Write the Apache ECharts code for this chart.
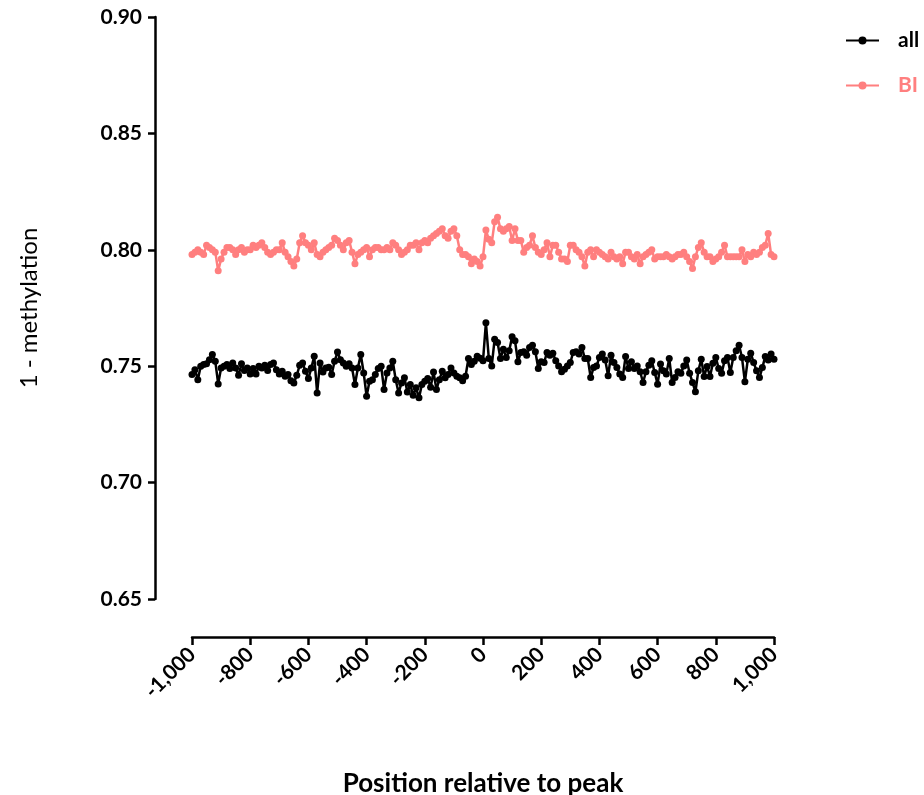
<!DOCTYPE HTML>
<html>
<head>
    <meta charset="utf-8">
    <title>1 - methylation</title>
    <script type="text/javascript" src="https://cdn.jsdelivr.net/npm/echarts@6/dist/echarts.min.js"></script>
    <style>
        html, body { margin: 0; padding: 0; background: #fff; }
        #main { width: 924px; height: 795px; }
    </style>
</head>
<body>
<div id="main"></div>
<script>
    // x positions: -1000 .. 1000, every 10 bp
    var positions = [];
    for (var p = -1000; p <= 1000; p += 10) {
        positions.push(p);
    }

    var xTicks = [-1000, -800, -600, -400, -200, 0, 200, 400, 600, 800, 1000];
    var yTicks = [0.65, 0.70, 0.75, 0.80, 0.85, 0.90];

    // series "all"
    var allValues = [
        0.7464, 0.7485, 0.7442, 0.7500, 0.7507, 0.7511, 0.7528, 0.7550, 0.7521, 0.7424,
        0.7492, 0.7500, 0.7507, 0.7490, 0.7514, 0.7492, 0.7461, 0.7510, 0.7481, 0.7492,
        0.7467, 0.7490, 0.7467, 0.7500, 0.7492, 0.7504, 0.7481, 0.7507, 0.7514, 0.7485,
        0.7467, 0.7478, 0.7457, 0.7464, 0.7438, 0.7428, 0.7461, 0.7504, 0.7514, 0.7478,
        0.7447, 0.7492, 0.7543, 0.7385, 0.7514, 0.7475, 0.7492, 0.7495, 0.7464, 0.7521,
        0.7561, 0.7528, 0.7514, 0.7500, 0.7510, 0.7492, 0.7421, 0.7492, 0.7550, 0.7471,
        0.7371, 0.7435, 0.7442, 0.7464, 0.7490, 0.7500, 0.7400, 0.7471, 0.7492, 0.7521,
        0.7442, 0.7385, 0.7428, 0.7450, 0.7389, 0.7421, 0.7375, 0.7407, 0.7364, 0.7421,
        0.7435, 0.7447, 0.7410, 0.7475, 0.7400, 0.7442, 0.7478, 0.7450, 0.7464, 0.7492,
        0.7471, 0.7457, 0.7450, 0.7438, 0.7457, 0.7533, 0.7507, 0.7521, 0.7543, 0.7534,
        0.7523, 0.7687, 0.7533, 0.7501, 0.7616, 0.7602, 0.7533, 0.7573, 0.7537, 0.7566,
        0.7627, 0.7609, 0.7519, 0.7559, 0.7562, 0.7547, 0.7580, 0.7590, 0.7562, 0.7490,
        0.7519, 0.7516, 0.7559, 0.7547, 0.7556, 0.7523, 0.7501, 0.7476, 0.7487, 0.7501,
        0.7516, 0.7559, 0.7562, 0.7552, 0.7580, 0.7533, 0.7533, 0.7451, 0.7494, 0.7501,
        0.7537, 0.7552, 0.7527, 0.7459, 0.7547, 0.7516, 0.7494, 0.7466, 0.7451, 0.7542,
        0.7490, 0.7519, 0.7490, 0.7501, 0.7476, 0.7430, 0.7476, 0.7504, 0.7523, 0.7473,
        0.7423, 0.7509, 0.7480, 0.7466, 0.7533, 0.7430, 0.7451, 0.7476, 0.7470, 0.7501,
        0.7527, 0.7470, 0.7430, 0.7390, 0.7480, 0.7530, 0.7456, 0.7499, 0.7456, 0.7513,
        0.7537, 0.7490, 0.7470, 0.7523, 0.7537, 0.7473, 0.7537, 0.7566, 0.7590, 0.7537,
        0.7433, 0.7530, 0.7556, 0.7516, 0.7480, 0.7451, 0.7494, 0.7542, 0.7527, 0.7552,
        0.7530
    ];

    // series "BI"
    var biValues = [
        0.798, 0.799, 0.800, 0.799, 0.798, 0.802, 0.801, 0.800, 0.799, 0.791,
        0.796, 0.799, 0.801, 0.801, 0.800, 0.798, 0.800, 0.801, 0.799, 0.800,
        0.800, 0.802, 0.801, 0.802, 0.803, 0.801, 0.799, 0.798, 0.799, 0.800,
        0.800, 0.803, 0.799, 0.797, 0.795, 0.793, 0.796, 0.803, 0.806, 0.803,
        0.802, 0.800, 0.803, 0.798, 0.797, 0.799, 0.800, 0.801, 0.802, 0.805,
        0.804, 0.802, 0.800, 0.803, 0.804, 0.799, 0.794, 0.798, 0.799, 0.800,
        0.801, 0.797, 0.800, 0.801, 0.801, 0.800, 0.800, 0.801, 0.800, 0.803,
        0.802, 0.800, 0.798, 0.799, 0.800, 0.802, 0.802, 0.803, 0.800, 0.803,
        0.804, 0.803, 0.805, 0.806, 0.807, 0.808, 0.809, 0.806, 0.805, 0.808,
        0.809, 0.806, 0.800, 0.798, 0.798, 0.797, 0.794, 0.796, 0.795, 0.793,
        0.797, 0.8085, 0.8045, 0.803, 0.812, 0.814, 0.809, 0.808, 0.809, 0.810,
        0.804, 0.809, 0.804, 0.804, 0.799, 0.801, 0.802, 0.806, 0.801, 0.799,
        0.798, 0.800, 0.803, 0.797, 0.802, 0.802, 0.799, 0.796, 0.796, 0.795,
        0.802, 0.802, 0.800, 0.799, 0.797, 0.793, 0.799, 0.800, 0.797, 0.800,
        0.799, 0.798, 0.797, 0.796, 0.799, 0.797, 0.796, 0.797, 0.794, 0.799,
        0.799, 0.797, 0.796, 0.798, 0.794, 0.797, 0.798, 0.799, 0.800, 0.796,
        0.797, 0.797, 0.797, 0.798, 0.797, 0.796, 0.797, 0.798, 0.798, 0.799,
        0.797, 0.795, 0.792, 0.797, 0.801, 0.803, 0.799, 0.797, 0.797, 0.795,
        0.796, 0.797, 0.799, 0.802, 0.797, 0.797, 0.797, 0.797, 0.797, 0.800,
        0.795, 0.798, 0.797, 0.799, 0.798, 0.799, 0.801, 0.802, 0.807, 0.798,
        0.797
    ];

    var pink = '#ff7f7f';
    var font = 'Lato, "Open Sans", sans-serif';

    function pairs(xs, ys) {
        var out = [];
        for (var i = 0; i < xs.length; i++) {
            out.push([xs[i], ys[i]]);
        }
        return out;
    }

    function thousands(v) {
        var s = String(Math.abs(v));
        s = s.replace(/\B(?=(\d{3})+(?!\d))/g, ',');
        return (v < 0 ? '-' : '') + s;
    }

    var myChart = echarts.init(document.getElementById('main'));

    var option = {
        animation: false,
        backgroundColor: '#ffffff',
        grid: {
            left: 192,
            right: 150,
            top: 17,
            bottom: 196,
            outerBoundsMode: 'none'
        },
        legend: {
            orient: 'vertical',
            left: 845,
            top: 30,
            padding: 0,
            itemWidth: 33,
            itemHeight: 10,
            itemGap: 24,
            textStyle: {
                fontFamily: font,
                fontSize: 21,
                fontWeight: 'bold',
                color: '#000',
                padding: [0, 0, 0, 14]
            },
            data: [
                {name: 'all'},
                {name: 'BI', textStyle: {color: pink}}
            ]
        },
        xAxis: {
            type: 'value',
            min: xTicks[0],
            max: xTicks[xTicks.length - 1],
            interval: 200,
            offset: 38,
            splitLine: {show: false},
            axisLine: {
                show: true,
                onZero: false,
                lineStyle: {color: '#000', width: 2.5}
            },
            axisTick: {
                show: true,
                length: 8,
                lineStyle: {color: '#000', width: 2.5}
            },
            axisLabel: {
                rotate: 45,
                margin: 14,
                color: '#000',
                fontFamily: font,
                fontSize: 21,
                fontWeight: 'bold',
                formatter: function (v) { return thousands(v); }
            },
            name: 'Position relative to peak',
            nameLocation: 'middle',
            nameGap: 134,
            nameTextStyle: {
                color: '#000',
                fontFamily: font,
                fontSize: 26,
                fontWeight: 'bold'
            }
        },
        yAxis: {
            type: 'value',
            min: yTicks[0],
            max: yTicks[yTicks.length - 1],
            interval: 0.05,
            offset: 37,
            splitLine: {show: false},
            axisLine: {
                show: true,
                onZero: false,
                lineStyle: {color: '#000', width: 2.5}
            },
            axisTick: {
                show: true,
                length: 7,
                lineStyle: {color: '#000', width: 2.5}
            },
            axisLabel: {
                margin: 13,
                color: '#000',
                fontFamily: font,
                fontSize: 21,
                fontWeight: 'bold',
                formatter: function (v) { return v.toFixed(2); }
            },
            name: '1 - methylation',
            nameLocation: 'middle',
            nameGap: 114,
            nameTextStyle: {
                color: '#000',
                fontFamily: font,
                fontSize: 24
            }
        },
        series: [
            {
                name: 'all',
                type: 'line',
                data: pairs(positions, allValues),
                symbol: 'circle',
                symbolSize: 7,
                color: '#000',
                lineStyle: {width: 2.5, color: '#000'},
                itemStyle: {color: '#000'}
            },
            {
                name: 'BI',
                type: 'line',
                data: pairs(positions, biValues),
                symbol: 'circle',
                symbolSize: 7,
                color: pink,
                lineStyle: {width: 2.5, color: pink},
                itemStyle: {color: pink}
            }
        ]
    };

    myChart.setOption(option);
</script>
</body>
</html>
